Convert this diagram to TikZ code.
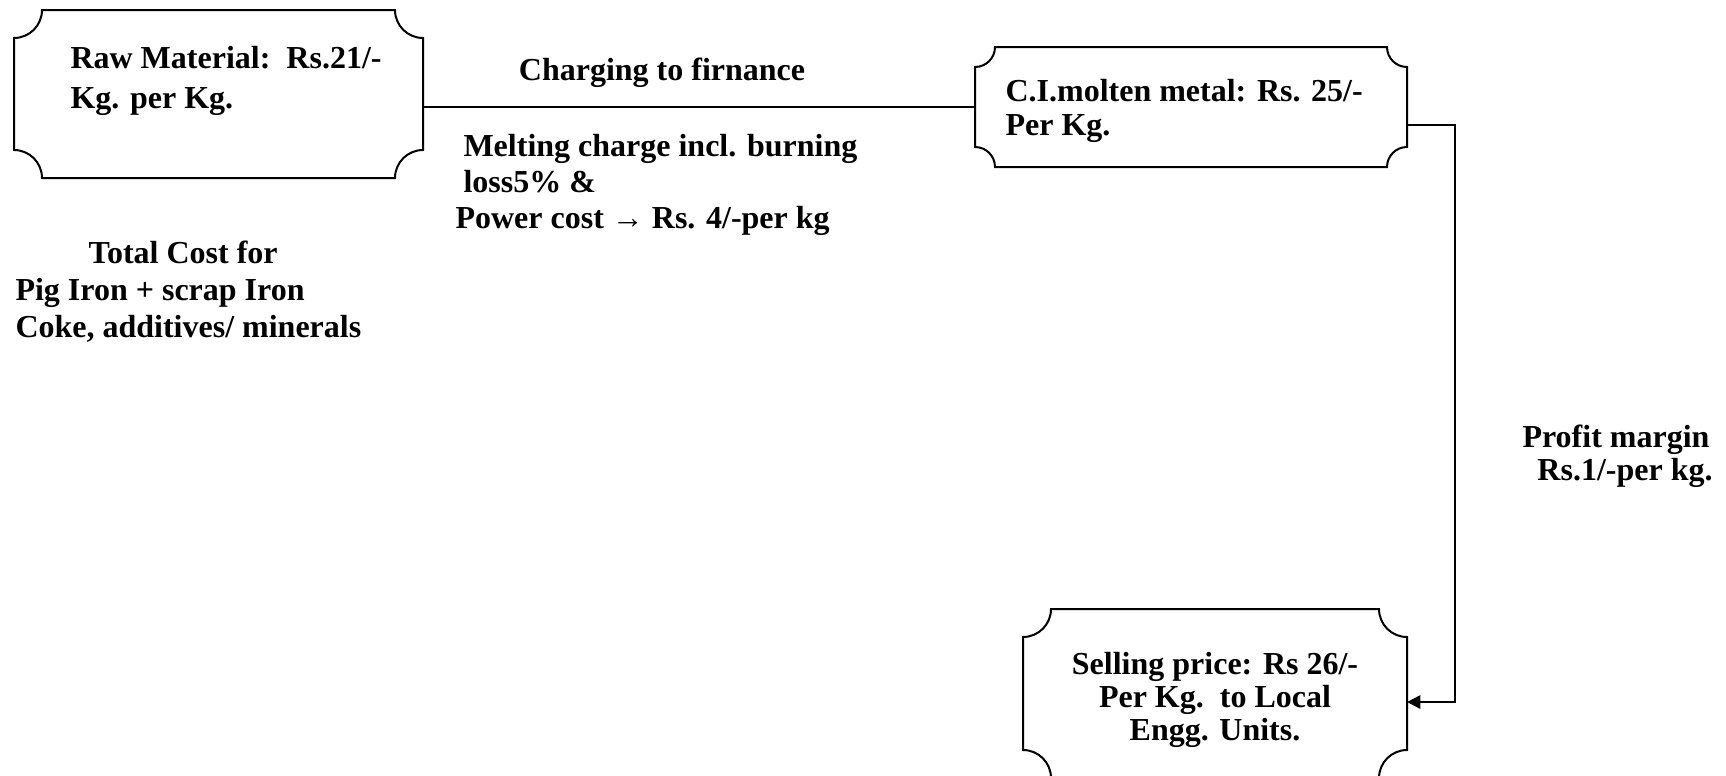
\documentclass[tikz,border=0pt]{standalone}
\usepackage{fontspec}
\setmainfont{Liberation Serif}
\usetikzlibrary{arrows.meta,positioning}

\tikzstyle{frame} = [inner sep=0pt, outer sep=0pt]
\tikzstyle{note} = [inner sep=0pt, align=left]
\tikzstyle{link} = [line width=0.75pt]

% box with concave (plaque) corners round a node
\newcommand{\plaquebox}[2]{%
  \draw[link] ([yshift=-#2]#1.north west) arc (-90:0:#2)
    -- ([xshift=-#2]#1.north east) arc (180:270:#2)
    -- ([yshift=#2]#1.south east) arc (90:180:#2)
    -- ([xshift=#2]#1.south west) arc (0:90:#2) -- cycle;
}

\begin{document}
\begin{tikzpicture}[x=0.375pt, y=0.375pt, font=\fontsize{12}{13.5}\selectfont\bfseries]
\useasboundingbox (0,0) rectangle (1726,-775);
\clip (0,0) rectangle (1726,-775);

\node[frame, minimum width=153.375pt, minimum height=63pt] (raw) at (218.5,-94) {};
\node[frame, minimum width=162pt, minimum height=45pt] (molten) at (1191,-107) {};
\node[frame, minimum width=144pt, minimum height=63.375pt] (sell) at (1215,-693.5) {};
\plaquebox{raw}{10.5pt}
\plaquebox{molten}{7.5pt}
\plaquebox{sell}{10.5pt}

\node[note, anchor=north west, font=\fontsize{12}{14.8}\selectfont\bfseries] (rawtxt) at (70,-46) {Raw Material:\ \ Rs.21/-\\Kg. per Kg.};
\node[note, anchor=north west, font=\fontsize{12}{12.8}\selectfont\bfseries] (moltentxt) at (1005,-79) {C.I.molten metal: Rs. 25/-\\Per Kg.};
\node[note, align=center, anchor=north, font=\fontsize{12}{12.4}\selectfont\bfseries] (selltxt) at (1215,-652) {Selling price: Rs 26/-\\Per Kg.\ \ to Local\\Engg. Units.};

\node[note, anchor=base] (charge) at (662,-80) {Charging to firnance};
\node[note, anchor=north west] (melt) at (455,-134) {\hspace{3pt}Melting charge incl. burning\\\hspace{3pt}loss5\% \&\\Power cost → Rs. 4/-per kg};
\node[note, anchor=north west, font=\fontsize{12}{14}\selectfont\bfseries] (total) at (15,-240) {\hspace{27.4pt}Total Cost for\\Pig Iron + scrap Iron\\Coke, additives/ minerals};
\node[note, anchor=north west, font=\fontsize{12}{12.4}\selectfont\bfseries] (profit) at (1522,-424) {Profit margin\\\hspace{5.6pt}Rs.1/-per kg.};

\coordinate (bend) at (1455,-125);
\draw[link] (molten.west -| raw.east) -- (molten.west);
\draw[link, -{Triangle[length=5pt, width=5pt]}] ([yshift=-6.75pt]molten.east) -- (bend) |- ([yshift=-3.2pt]sell.east);
\end{tikzpicture}
\end{document}
